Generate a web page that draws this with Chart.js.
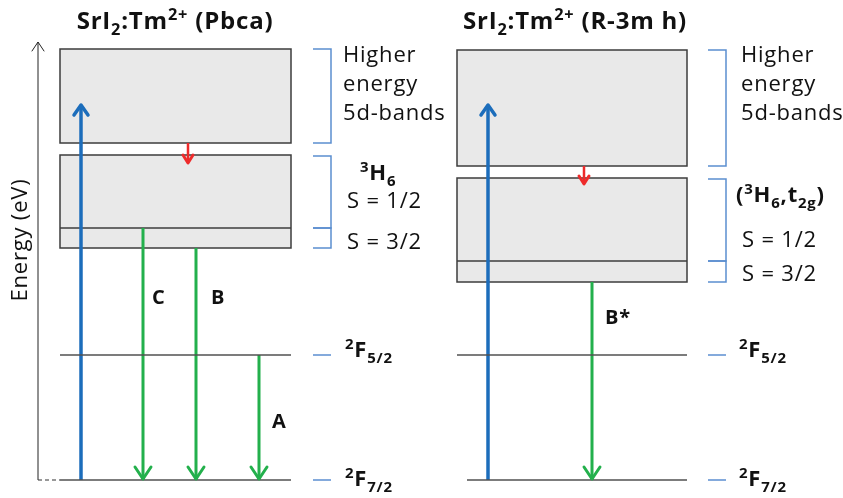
<!DOCTYPE html>
<html>
<head>
<meta charset="utf-8">
<script src="https://cdn.jsdelivr.net/npm/chart.js@4.4.0/dist/chart.umd.min.js"></script>
<style>
  html, body { margin: 0; background: #fff; }
  #wrap { width: 843px; height: 498px; }
</style>
</head>
<body>
<div id="wrap"><canvas id="levels"></canvas></div>
<script>
// energies in units of the 2F7/2 -> 2F5/2 gap (2F7/2 = 0)
const panelTitles = ['(Pbca)', '(R-3m h)'];
const panelLeft = [60, 457];
const panelRight = [291, 687];
const upperBand = [[2.696, 3.448], [2.512, 3.44]];
const lowerBand = [[1.856, 2.6], [1.584, 2.416]];
const spinSplit = [2.016, 1.752];
const levelF52 = 1.0;
const levelF72 = 0;
const pumpX = [81, 488];
const pumpTop = [3.0, 3.0];
const relaxX = [188, 584];
const relaxEnd = [2.544, 2.376];
const emisLabels = ['C', 'B', 'A', 'B*'];
const emisX = [143, 196, 259, 592];
const emisFrom = [2.016, 1.856, 1.0, 1.584];
const emisTo = [0, 0, 0, 0];
const axisTop = 3.504;

const FONT = '"Open Sans", Lato, sans-serif';
const BLUE = '#1c6dbb';
const GREEN = '#23b04c';
const RED = '#ee2b2b';
const BRACKET = '#5b8ed0';
const EDGE = '#3c3c3c';

function seg(x0, y0, x1, y1, color, width) {
    return {
        type: 'scatter',
        data: [{ x: x0, y: y0 }, { x: x1, y: y1 }],
        showLine: true,
        borderColor: color,
        borderWidth: width,
        pointRadius: 0,
        fill: false,
    };
}

var datasets = [];
for (let p = 0; p < 2; p++) {
    datasets.push(seg(panelLeft[p], levelF52, panelRight[p], levelF52, '#505050', 1.5));
    datasets.push(seg(p === 0 ? panelLeft[p] : panelLeft[p] + 10, levelF72, panelRight[p], levelF72, '#505050', 1.5));
    datasets.push(seg(pumpX[p], levelF72, pumpX[p], pumpTop[p], BLUE, 3.5));
    datasets.push(seg(relaxX[p], upperBand[p][0], relaxX[p], relaxEnd[p], RED, 2.5));
}
for (let i = 0; i < emisX.length; i++) {
    datasets.push(seg(emisX[i], emisFrom[i], emisX[i], emisTo[i], GREEN, 3));
}
// energy axis
datasets.push(seg(38, levelF72, 38, axisTop, '#222', 1));

// draws text with superscript / subscript runs, y is the baseline
function rich(ctx, x, y, parts, size, bold) {
    let cx = x;
    parts.forEach(function (pt) {
        let txt = pt[0], mode = pt[1] || 'n';
        let s = mode === 'n' ? size : size * 0.68;
        let dy = mode === 'sup' ? -size * 0.36 : mode === 'sub' ? size * 0.26 : 0;
        ctx.font = (bold ? 'bold ' : '') + s + 'px ' + FONT;
        ctx.fillText(txt, cx, y + dy);
        cx += ctx.measureText(txt).width;
    });
    return cx - x;
}
function richWidth(ctx, parts, size, bold) {
    let w = 0;
    parts.forEach(function (pt) {
        let s = (pt[1] || 'n') === 'n' ? size : size * 0.68;
        ctx.font = (bold ? 'bold ' : '') + s + 'px ' + FONT;
        w += ctx.measureText(pt[0]).width;
    });
    return w;
}

function head(ctx, x, y, dir, half, len, color, w) {
    ctx.save();
    ctx.strokeStyle = color;
    ctx.lineWidth = w;
    ctx.lineCap = 'round';
    ctx.lineJoin = 'round';
    ctx.beginPath();
    ctx.moveTo(x - half, y - dir * len);
    ctx.lineTo(x, y);
    ctx.lineTo(x + half, y - dir * len);
    ctx.stroke();
    ctx.restore();
}

const diagramPlugin = {
    id: 'diagram',
    beforeDatasetsDraw(chart) {
        const ctx = chart.ctx, xs = chart.scales.x, ys = chart.scales.y;
        ctx.save();
        for (let p = 0; p < 2; p++) {
            const x0 = xs.getPixelForValue(panelLeft[p]);
            const x1 = xs.getPixelForValue(panelRight[p]);
            [upperBand[p], lowerBand[p]].forEach(function (b) {
                const yt = ys.getPixelForValue(b[1]);
                const yb = ys.getPixelForValue(b[0]);
                ctx.fillStyle = '#e9e9e9';
                ctx.fillRect(x0, yt, x1 - x0, yb - yt);
                ctx.strokeStyle = EDGE;
                ctx.lineWidth = 1.5;
                ctx.strokeRect(x0, yt, x1 - x0, yb - yt);
            });
            const ys2 = ys.getPixelForValue(spinSplit[p]);
            ctx.beginPath();
            ctx.moveTo(x0, ys2);
            ctx.lineTo(x1, ys2);
            ctx.stroke();
        }
        ctx.restore();
    },
    afterDatasetsDraw(chart) {
        const ctx = chart.ctx, xs = chart.scales.x, ys = chart.scales.y;
        const px = function (v) { return xs.getPixelForValue(v); };
        const py = function (v) { return ys.getPixelForValue(v); };
        ctx.save();

        // arrow heads
        for (let p = 0; p < 2; p++) {
            head(ctx, px(pumpX[p]), py(pumpTop[p]), -1, 7, 10, BLUE, 3.5);
            head(ctx, px(relaxX[p]), py(relaxEnd[p]) + 1, 1, 5, 8, RED, 3);
        }
        for (let i = 0; i < emisX.length; i++) {
            head(ctx, px(emisX[i]), py(emisTo[i]) - 1, 1, 8, 12, GREEN, 3);
        }
        head(ctx, px(38), py(axisTop), -1, 6, 9, '#222', 1);

        // dashed stub at the bottom of the axis
        ctx.strokeStyle = '#333';
        ctx.lineWidth = 1.2;
        ctx.setLineDash([4, 3]);
        ctx.beginPath();
        ctx.moveTo(px(38), py(levelF72));
        ctx.lineTo(px(panelLeft[0]), py(levelF72));
        ctx.stroke();
        ctx.setLineDash([]);

        // brackets
        ctx.strokeStyle = BRACKET;
        ctx.lineWidth = 1.5;
        const bx = [[313, 331], [708, 726]];
        for (let p = 0; p < 2; p++) {
            const a = bx[p][0], b = bx[p][1];
            const spans = [
                [upperBand[p][1], upperBand[p][0]],
                [lowerBand[p][1], spinSplit[p]],
                [spinSplit[p], lowerBand[p][0]],
            ];
            spans.forEach(function (s) {
                const t = py(s[0]) + (s === spans[1] ? 1 : 0), u = py(s[1]);
                ctx.beginPath();
                ctx.moveTo(px(a), t);
                ctx.lineTo(px(b), t);
                ctx.lineTo(px(b), u);
                ctx.lineTo(px(a), u);
                ctx.stroke();
            });
            [levelF52, levelF72].forEach(function (l) {
                ctx.beginPath();
                ctx.moveTo(px(a), py(l));
                ctx.lineTo(px(b), py(l));
                ctx.stroke();
            });
        }

        ctx.fillStyle = '#111';
        ctx.textBaseline = 'alphabetic';
        ctx.textAlign = 'left';
        ctx.letterSpacing = '0.8px';

        // titles
        const titleCx = [175, 575];
        for (let p = 0; p < 2; p++) {
            const parts = [['SrI'], ['2', 'sub'], [':Tm'], ['2+', 'sup'], [' ' + panelTitles[p]]];
            const w = richWidth(ctx, parts, 24, true);
            rich(ctx, titleCx[p] - w / 2, 29, parts, 24, true);
        }

        // right-hand labels
        const lx = [343, 741];
        for (let p = 0; p < 2; p++) {
            ctx.font = '22px ' + FONT;
            ctx.fillText('Higher', lx[p], 62);
            ctx.fillText('energy', lx[p], 91);
            ctx.fillText('5d-bands', lx[p], 120);
        }
        rich(ctx, 360, 180, [['3', 'sup'], ['H'], ['6', 'sub']], 22, true);
        rich(ctx, 736, 202, [['('], ['3', 'sup'], ['H'], ['6', 'sub'], [','], ['t'], ['2g', 'sub'], [')']], 22, true);
        ctx.font = '22px ' + FONT;
        ctx.fillText('S = 1/2', 347, 208);
        ctx.fillText('S = 3/2', 347, 249);
        ctx.fillText('S = 1/2', 742, 247);
        ctx.fillText('S = 3/2', 742, 281);

        const fx = [345, 739];
        for (let p = 0; p < 2; p++) {
            rich(ctx, fx[p], py(levelF52) + 2, [['2', 'sup'], ['F'], ['5/2', 'sub']], 22, true);
            rich(ctx, fx[p], py(levelF72) + 6, [['2', 'sup'], ['F'], ['7/2', 'sub']], 22, true);
        }

        // transition labels
        const labX = [152, 211, 272, 605];
        const labY = [304, 304, 428, 324];
        ctx.font = 'bold 20px ' + FONT;
        for (let i = 0; i < emisLabels.length; i++) {
            ctx.fillText(emisLabels[i], labX[i], labY[i]);
        }

        // axis title
        ctx.save();
        ctx.translate(27, 240);
        ctx.rotate(-Math.PI / 2);
        ctx.textAlign = 'center';
        ctx.font = '22px ' + FONT;
        ctx.fillText('Energy (eV)', 0, 0);
        ctx.restore();

        ctx.restore();
    },
};

new Chart(document.getElementById('levels'), {
    type: 'scatter',
    data: { datasets: datasets },
    options: {
        responsive: true,
        maintainAspectRatio: false,
        animation: false,
        layout: { padding: 0 },
        plugins: {
            legend: { display: false },
            tooltip: { enabled: false },
        },
        scales: {
            x: { type: 'linear', min: 0, max: 843, display: false },
            y: { type: 'linear', min: -0.144, max: 3.84, display: false },
        },
    },
    plugins: [diagramPlugin],
});
</script>
</body>
</html>
